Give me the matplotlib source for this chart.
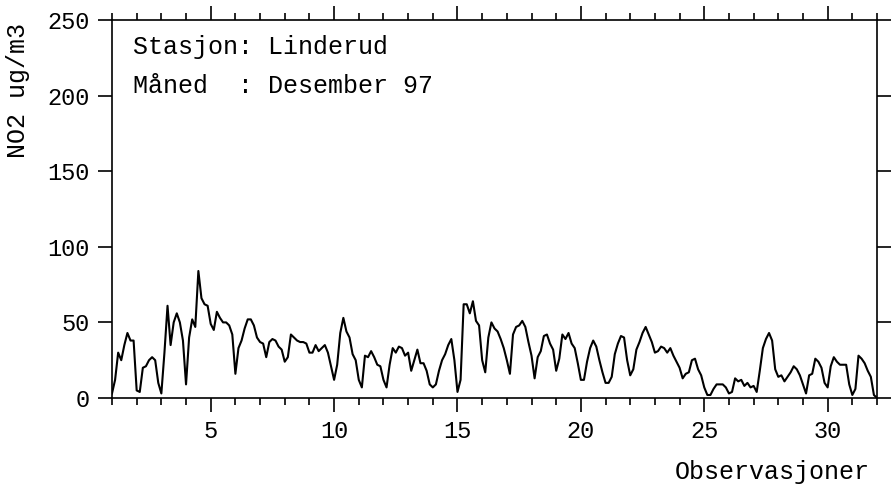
import numpy as np
import matplotlib
matplotlib.use("Agg")
from matplotlib import pyplot as plt
from matplotlib.ticker import MultipleLocator

# NO2 hourly concentrations, Linderud, December 1997 (every third hour, ug/m3)
no2 = [
    3, 12, 30, 25, 35, 43, 38, 38,
    5, 4, 20, 21, 25, 27, 25, 10,
    3, 30, 61, 35, 50, 56, 50, 38,
    9, 40, 52, 47, 84, 66, 62, 61,
    49, 45, 57, 53, 50, 50, 48, 42,
    16, 33, 38, 46, 52, 52, 48, 40,
    37, 36, 27, 37, 39, 38, 34, 32,
    24, 27, 42, 40, 38, 37, 37, 36,
    30, 30, 35, 31, 33, 35, 30, 21,
    12, 22, 43, 53, 44, 40, 29, 25,
    12, 7, 28, 27, 31, 27, 22, 21,
    12, 7, 22, 33, 30, 34, 33, 28,
    30, 18, 25, 32, 23, 23, 18, 9,
    7, 9, 18, 25, 29, 35, 39, 25,
    4, 12, 62, 62, 56, 64, 51, 48,
    25, 17, 40, 50, 46, 44, 39, 33,
    25, 16, 42, 47, 48, 51, 47, 37,
    28, 13, 27, 31, 41, 42, 36, 32,
    18, 26, 42, 39, 43, 36, 33, 23,
    12, 12, 24, 33, 38, 34, 25, 17,
    10, 10, 14, 29, 36, 41, 40, 25,
    15, 19, 32, 37, 43, 47, 42, 37,
    30, 31, 34, 33, 30, 33, 28, 24,
    20, 13, 16, 17, 25, 26, 19, 15,
    7, 2, 2, 6, 9, 9, 9, 7,
    3, 4, 13, 11, 12, 8, 10, 7,
    8, 4, 18, 33, 39, 43, 38, 19,
    14, 15, 11, 14, 17, 21, 19, 15,
    9, 3, 15, 16, 26, 24, 20, 10,
    7, 21, 27, 24, 22, 22, 22, 9,
    2, 6, 28, 26, 23, 18, 14, 2,
    0,
]
step_hours = 3
station = "Linderud"
month = "Desember 97"

x = 1 + np.arange(len(no2)) * step_hours / 24.0

plt.rcParams['font.family'] = ['Liberation Mono', 'DejaVu Sans Mono']

fig = plt.figure(figsize=(8.91, 4.88), dpi=100)
ax = fig.add_axes([112 / 891, 1 - 398 / 488, (877 - 112) / 891, (398 - 20) / 488])

ax.plot(x, no2, color='black', lw=1.5)

ax.set_xlim(1, 32)
ax.set_ylim(0, 250)
ax.xaxis.set_major_locator(MultipleLocator(5))
ax.xaxis.set_minor_locator(MultipleLocator(1))
ax.yaxis.set_major_locator(MultipleLocator(50))

ax.tick_params(axis='x', which='both', direction='out', top=True, bottom=True,
               labelsize=17, pad=6, width=1.2)
ax.tick_params(axis='x', which='major', length=10)
ax.tick_params(axis='x', which='minor', length=5)
ax.tick_params(axis='y', which='major', direction='out', left=True, right=True,
               length=10, width=1.2, labelsize=17, pad=6)
for s in ax.spines.values():
    s.set_linewidth(1.2)

ax.text(0.0275, 0.928, "Stasjon: " + station, transform=ax.transAxes,
        fontsize=18, va='center', ha='left')
ax.text(0.0275, 0.825, "Måned  : " + month, transform=ax.transAxes,
        fontsize=18, va='center', ha='left')

fig.text(18 / 891, 1 - 91 / 488, "NO2 ug/m3", rotation=90, fontsize=18,
         ha='center', va='center')
fig.text(870 / 891, 1 - 472 / 488, "Observasjoner", fontsize=18,
         ha='right', va='center')

fig.savefig("out.png", dpi=100)
